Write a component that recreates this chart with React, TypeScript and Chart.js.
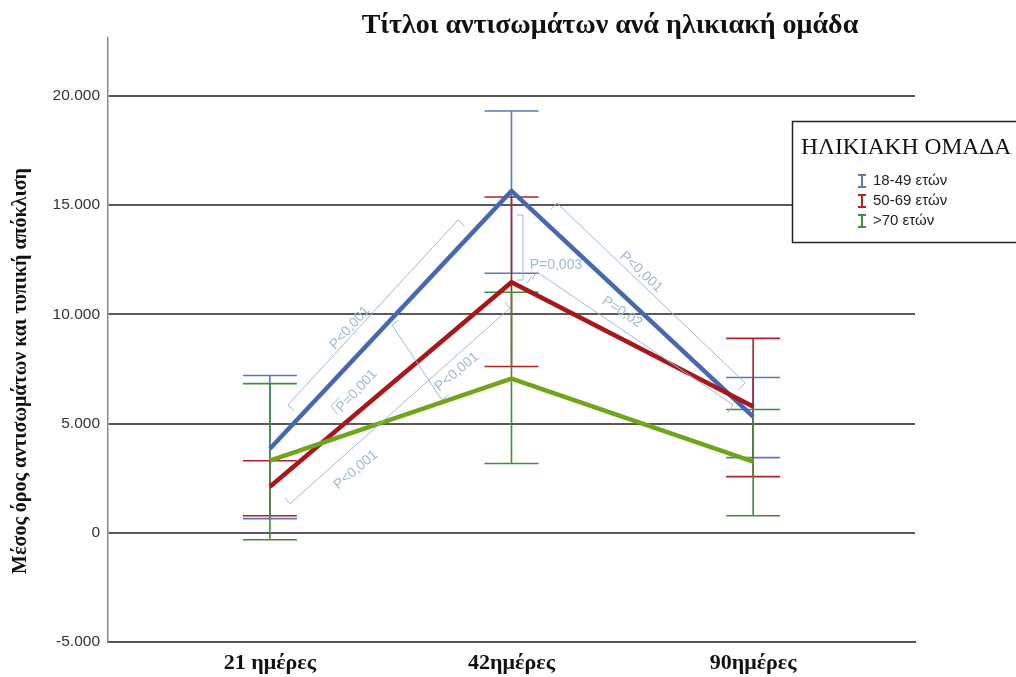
import React, { useEffect, useRef } from 'react';
import { Chart, registerables } from 'chart.js';

Chart.register(...registerables);

const categories = ['21 ημέρες', '42ημέρες', '90ημέρες'];
const groups = ['18-49 ετών', '50-69 ετών', '>70 ετών'];

const meanYoung = [3850, 15650, 5320];
const upperYoung = [7200, 19310, 7110];
const lowerYoung = [650, 11880, 3440];

const meanMid = [2110, 11470, 5780];
const upperMid = [3300, 15370, 8900];
const lowerMid = [780, 7610, 2570];

const meanOld = [3300, 7060, 3260];
const upperOld = [6830, 11010, 5640];
const lowerOld = [-320, 3170, 780];

const yTickValues = [-5000, 0, 5000, 10000, 15000, 20000];
const yTickLabels = ['-5.000', '0', '5.000', '10.000', '15.000', '20.000'];

const chartTitle = 'Τίτλοι αντισωμάτων ανά ηλικιακή ομάδα';
const yTitle = 'Μέσος όρος αντισωμάτων και τυπική απόκλιση';
const legendTitle = 'ΗΛΙΚΙΑΚΗ ΟΜΑΔΑ';
const pLabels = ['P<0,001', 'P=0,001', 'P<0,001', 'P<0,001', 'P=0,003', 'P<0,001', 'P=0,02'];

// annotation anchors in data space (x = category index, y = value)
const bracketLines = [
  { pts: [[0.0745, 5855], [0.7785, 14317]], tick: [6.5, 6] },
  { pts: [[0.505, 9514], [0.712, 6083]], tick: [7, -5] },
  { pts: [[0.0828, 1326], [0.9938, 10292]], tick: [-5, -6] },
  { pts: [[1.0476, 14545], [1.0476, 11572]], tick: [-6, 0] },
  { pts: [[1.188, 15094], [1.967, 6861]], tick: [-6.2, 6.5] },
  { pts: [[1.1056, 11938], [1.917, 5855]], tick: [-5, 7.4] },
];
const smallMarks = [
  [[0.29, 6220], [0.2526, 5810], [0.2816, 5400]],
  [[1.064, 11435], [1.085, 11755]],
];
const pTexts = [
  { at: [0.331, 9377], angle: -48, label: 0 },
  { at: [0.36, 6495], angle: -47, label: 1 },
  { at: [0.774, 7364], angle: -40, label: 2 },
  { at: [0.356, 2882], angle: -40, label: 3 },
  { at: [1.184, 12258], angle: 0, label: 4 },
  { at: [1.536, 11938], angle: 43, label: 5 },
  { at: [1.4576, 10109], angle: 34, label: 6 },
];

const lineColors = ['#4767b3', '#a8161a', '#6ea51a'];
const barColors = ['#5a77bf', '#b32025', '#3f8f3f'];
const errorSeries = [
  { upper: upperYoung, lower: lowerYoung },
  { upper: upperMid, lower: lowerMid },
  { upper: upperOld, lower: lowerOld },
];

const annColor = '#a0b8d9';

const extrasPlugin = {
  id: 'extras',
  beforeDatasetsDraw(chart: any) {
    const ctx = chart.ctx;
    const xs = chart.scales.x;
    const ys = chart.scales.y;
    ctx.save();
    errorSeries.forEach((s, si) => {
      ctx.strokeStyle = barColors[si];
      ctx.lineWidth = 1.6;
      s.upper.forEach((u, i) => {
        const x = xs.getPixelForValue(i);
        const yt = ys.getPixelForValue(u);
        const yb = ys.getPixelForValue(s.lower[i]);
        ctx.beginPath();
        ctx.moveTo(x, yt);
        ctx.lineTo(x, yb);
        ctx.moveTo(x - 27, yt);
        ctx.lineTo(x + 27, yt);
        ctx.moveTo(x - 27, yb);
        ctx.lineTo(x + 27, yb);
        ctx.stroke();
      });
    });
    ctx.restore();
  },
  afterDatasetsDraw(chart: any) {
    const ctx = chart.ctx;
    const xs = chart.scales.x;
    const ys = chart.scales.y;
    const px = (p: number[]) => [xs.getPixelForValue(p[0]), ys.getPixelForValue(p[1])];
    ctx.save();
    ctx.strokeStyle = annColor;
    ctx.lineWidth = 1;
    bracketLines.forEach((b) => {
      const a = px(b.pts[0]);
      const c = px(b.pts[1]);
      ctx.beginPath();
      ctx.moveTo(a[0] + b.tick[0], a[1] + b.tick[1]);
      ctx.lineTo(a[0], a[1]);
      ctx.lineTo(c[0], c[1]);
      ctx.lineTo(c[0] + b.tick[0], c[1] + b.tick[1]);
      ctx.stroke();
    });
    smallMarks.forEach((m) => {
      ctx.beginPath();
      m.forEach((p, i) => {
        const q = px(p);
        if (i === 0) ctx.moveTo(q[0], q[1]);
        else ctx.lineTo(q[0], q[1]);
      });
      ctx.stroke();
    });
    ctx.fillStyle = annColor;
    ctx.font = '14px "Liberation Sans", Arial, sans-serif';
    ctx.textAlign = 'center';
    ctx.textBaseline = 'middle';
    pTexts.forEach((t) => {
      const q = px(t.at);
      ctx.save();
      ctx.translate(q[0], q[1]);
      ctx.rotate((t.angle * Math.PI) / 180);
      ctx.fillText(pLabels[t.label], 0, 0);
      ctx.restore();
    });
    ctx.restore();
  },
  afterDraw(chart: any) {
    const ctx = chart.ctx;
    ctx.save();
    // title
    ctx.fillStyle = '#111';
    ctx.font = 'bold 28px "Liberation Serif", "Times New Roman", serif';
    ctx.textAlign = 'center';
    ctx.textBaseline = 'middle';
    ctx.fillText(chartTitle, 610, 26);
    // y title
    ctx.save();
    ctx.translate(21, 371);
    ctx.rotate(-Math.PI / 2);
    ctx.font = 'bold 20px "Liberation Serif", "Times New Roman", serif';
    ctx.fillText(yTitle, 0, 0);
    ctx.restore();
    // legend box
    ctx.fillStyle = '#ffffff';
    ctx.fillRect(792, 121, 240, 122);
    ctx.strokeStyle = '#222';
    ctx.lineWidth = 1.5;
    ctx.strokeRect(792.5, 121.5, 240, 121);
    ctx.fillStyle = '#111';
    ctx.textAlign = 'left';
    ctx.font = '23.5px "Liberation Serif", "Times New Roman", serif';
    ctx.fillText(legendTitle, 801, 148);
    ctx.font = '15px "Liberation Sans", Arial, sans-serif';
    groups.forEach((g, i) => {
      const y = 181 + i * 20;
      ctx.strokeStyle = barColors[i];
      ctx.lineWidth = 2;
      ctx.beginPath();
      ctx.moveTo(862, y - 6);
      ctx.lineTo(862, y + 6);
      ctx.moveTo(858, y - 6);
      ctx.lineTo(866, y - 6);
      ctx.moveTo(858, y + 6);
      ctx.lineTo(866, y + 6);
      ctx.stroke();
      ctx.fillStyle = '#222';
      ctx.fillText(g, 873, y);
    });
    ctx.restore();
  },
};

export default function App() {
  const canvasRef = useRef<HTMLCanvasElement | null>(null);

  useEffect(() => {
    const canvas = canvasRef.current;
    if (!canvas) return;
    const series = [meanYoung, meanMid, meanOld];
    const chart = new Chart(canvas, {
      type: 'line',
      data: {
        datasets: series.map((vals, si) => ({
          label: groups[si],
          data: vals.map((v, i) => ({ x: i, y: v })),
          borderColor: lineColors[si],
          backgroundColor: lineColors[si],
          borderWidth: 4.5,
          pointRadius: 0,
          tension: 0,
          fill: false,
          order: 2 - si,
        })),
      },
      options: {
        responsive: false,
        animation: false,
        devicePixelRatio: 1,
        layout: { padding: { left: 0, right: 101, top: 38, bottom: 0 } },
        plugins: {
          legend: { display: false },
          tooltip: { enabled: false },
          title: { display: false },
        },
        scales: {
          x: {
            type: 'linear',
            min: -0.67,
            max: 2.67,
            afterBuildTicks: (s: any) => {
              s.ticks = categories.map((_, i) => ({ value: i }));
            },
            afterFit: (s: any) => {
              s.height = 35;
            },
            ticks: {
              callback: (v: any) => categories[v],
              font: { family: '"Liberation Serif", "Times New Roman", serif', size: 22, weight: 'bold' },
              color: '#111',
              padding: 8,
              autoSkip: false,
              maxRotation: 0,
            },
            grid: { display: false, drawTicks: false },
            border: { display: true, color: '#555', width: 2 },
          },
          y: {
            min: -5000,
            max: 22650,
            afterBuildTicks: (s: any) => {
              s.ticks = yTickValues.map((v) => ({ value: v }));
            },
            afterFit: (s: any) => {
              s.width = 108;
            },
            ticks: {
              callback: (v: any) => yTickLabels[yTickValues.indexOf(Number(v))],
              font: { family: '"Liberation Sans", Arial, sans-serif', size: 15.5 },
              color: '#333',
              padding: 8,
            },
            grid: { color: '#5a5a5a', lineWidth: 2, drawTicks: false },
            border: { display: true, color: '#8a8a8a', width: 1.5 },
          },
        },
      } as any,
      plugins: [extrasPlugin],
    });
    return () => chart.destroy();
  }, []);

  return (
    <div style={{ position: 'fixed', left: 0, top: 0, width: 1016, height: 677, background: '#fff' }}>
      <canvas ref={canvasRef} width={1016} height={677} style={{ display: 'block' }} />
    </div>
  );
}
